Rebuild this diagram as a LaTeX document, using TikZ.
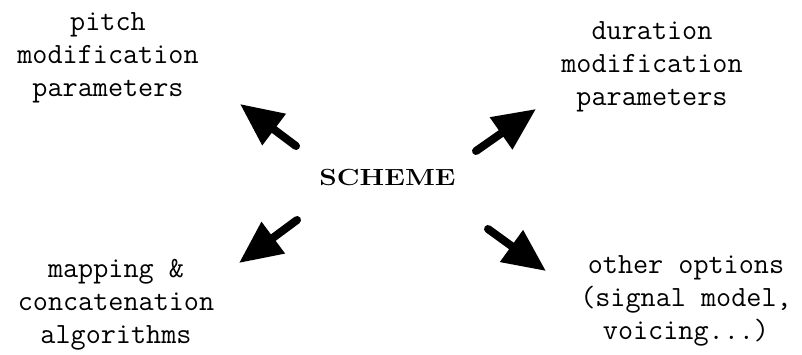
\documentclass[tikz,border=0pt]{standalone}
\usepackage{graphicx}
\usepackage{tikz}
\usetikzlibrary{arrows.meta,positioning}
\tikzset{%
	param/.style    = {align=center, font=\ttfamily\fontsize{22}{24.8}\selectfont, inner sep=0pt},
	hub/.style      = {inner sep=0pt, font=\fontsize{17.5}{20}\selectfont\bfseries},
	bigarrow/.style = {line width=6pt, line cap=round, -{Triangle[length=32pt,width=28pt]}},
}

\begin{document}
\begin{tikzpicture}[x=0.75pt,y=-0.75pt]
		\useasboundingbox (0,0) rectangle (802,354);
		
		% centre word
		\node[hub] (scheme) at (387.5,177.5) {\scalebox{1.2}[1]{SCHEME}};
		
		% the four groups
		\node[param] (pitch) at (108,58) {pitch\\modification\\parameters};
		\node[param] (duration) at (652,67) {duration\\modification\\parameters};
		\node[param] (mapping) at (116,305) {mapping \&\\concatenation\\algorithms};
		\node[param] (other) at (686,301) {other options\\(signal model,\\voicing...)};
		
		% arrow ends
		\coordinate (pitchfrom) at (296,146);
		\coordinate (pitchto) at (240,104);
		\coordinate (durfrom) at (476,151);
		\coordinate (durto) at (536,109);
		\coordinate (mapfrom) at (297,220);
		\coordinate (mapto) at (239,263);
		\coordinate (otherfrom) at (488,229);
		\coordinate (otherto) at (546,271);
		
		\draw[bigarrow] (pitchfrom) -- (pitchto);
		\draw[bigarrow] (durfrom) -- (durto);
		\draw[bigarrow] (mapfrom) -- (mapto);
		\draw[bigarrow] (otherfrom) -- (otherto);
		
\end{tikzpicture}
\end{document}
